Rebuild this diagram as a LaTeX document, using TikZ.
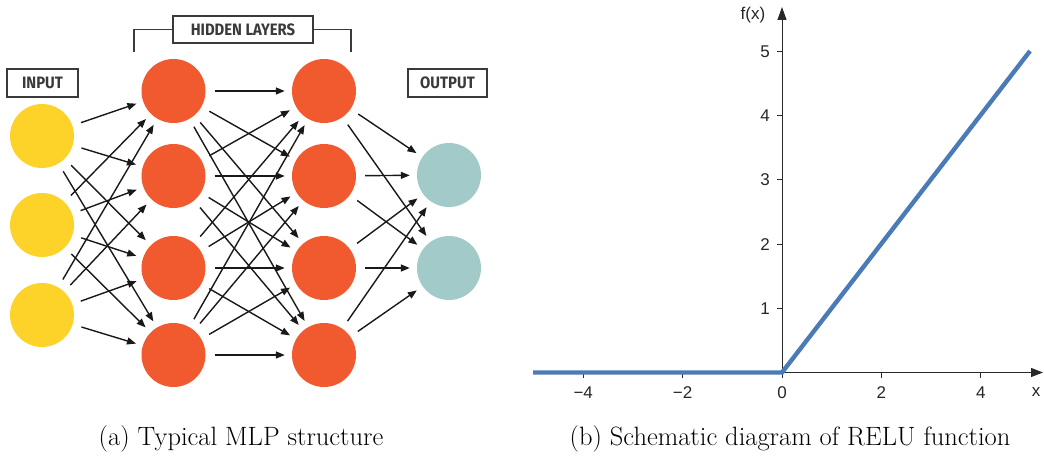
\documentclass[tikz,border=0pt]{standalone}
\usepackage{fontspec}
\usetikzlibrary{arrows.meta}
\newfontfamily\plotfont{Liberation Sans}
\newfontfamily\tagfont[FakeStretch=0.9]{Fira Sans}

\definecolor{inyellow}{RGB}{253,211,41}
\definecolor{hidorange}{RGB}{241,89,46}
\definecolor{outteal}{RGB}{161,202,201}
\definecolor{relublue}{RGB}{74,123,183}
\definecolor{tagrey}{RGB}{58,58,58}
\definecolor{axisgrey}{RGB}{40,40,40}

\tikzset{
  neuron/.style={circle,minimum size=64pt,inner sep=0pt,draw=none},
  inneuron/.style={neuron,fill=inyellow},
  hidneuron/.style={neuron,fill=hidorange},
  outneuron/.style={neuron,fill=outteal},
  conn/.style={line width=1.4pt,draw=black!90,
    -{Triangle[length=9pt,width=7pt]},shorten <=9pt,shorten >=7pt},
  tagbox/.style={draw=tagrey,line width=1.8pt,inner sep=0pt,
    text=tagrey,font=\tagfont\bfseries\fontsize{16.5}{17}\selectfont},
  bracket/.style={draw=tagrey,line width=1.8pt},
  caption/.style={anchor=base,inner sep=0pt,font=\fontsize{26.5}{31}\selectfont},
  axisline/.style={draw=axisgrey,line width=1pt},
  tick/.style={draw=axisgrey,line width=0.9pt},
  ticklabel/.style={inner sep=0pt,font=\plotfont\fontsize{17}{19}\selectfont,text=black!85},
  relu/.style={draw=relublue,line width=4.4pt}
}

\begin{document}
\begin{tikzpicture}[x=1pt,y=-1pt]
\useasboundingbox (0,0) rectangle (1044,460);

% ---------------- (a) multilayer perceptron ----------------
\node[inneuron] (a1) at (42,136) {};
\node[inneuron] (a2) at (42,225) {};
\node[inneuron] (a3) at (42,315) {};
\foreach \j/\y in {1/91,2/176,3/268,4/355} {
  \node[hidneuron] (b\j) at (173.5,\y) {};
  \node[hidneuron] (c\j) at (324,\y) {};
}
\node[outneuron] (o1) at (449,175) {};
\node[outneuron] (o2) at (449,268) {};

\foreach \i in {1,2,3}
  \foreach \j in {1,...,4}
    \draw[conn] (a\i) -- (b\j);
\foreach \i in {1,...,4}
  \foreach \j in {1,...,4}
    \draw[conn] (b\i) -- (c\j);
\foreach \i in {1,...,4}
  \foreach \k in {1,2}
    \draw[conn] (c\i) -- (o\k);

% layer tags
\node[tagbox,minimum width=71pt,minimum height=28pt] (tin) at (42.5,83) {INPUT};
\node[tagbox,minimum width=140pt,minimum height=27pt] (thid) at (243,29.5) {HIDDEN LAYERS};
\node[tagbox,minimum width=79pt,minimum height=28pt] (tout) at (447.5,83) {OUTPUT};
\coordinate (brL) at (134,52);
\coordinate (brR) at (351,52);
\draw[bracket] (brL) |- (thid.west);
\draw[bracket] (brR) |- (thid.east);

\node[caption] (capa) at (241,445) {(a) Typical MLP structure};

% ---------------- (b) ReLU plot ----------------
% origin (782,372.5); 49.7 per x unit, 64.2 per y unit
\coordinate (O) at (782,372.5);
\coordinate (xL) at (533,372.5);
\coordinate (xR) at (1043,372.5);
\coordinate (yT) at (782,7);
\coordinate (p0) at (533,372.5);
\coordinate (p1) at (782,372.5);
\coordinate (p2) at (1030,51);

\draw[axisline,-{Triangle[length=12pt,width=9pt]}] (xL) -- (xR);
\draw[axisline,-{Triangle[length=13pt,width=9pt]}] (O) -- (yT);

\foreach \v/\lab in {-4/−4,-2/−2,0/0,2/2,4/4} {
  \coordinate (xt\v) at ({782+49.7*\v},372.5);
  \draw[tick] (xt\v) -- ++(0,5);
  \node[ticklabel] (xl\v) at ({782+49.7*\v},393) {\lab};
}
\foreach \v in {1,...,5} {
  \coordinate (yt\v) at (782,{372.5-64.2*\v});
  \draw[tick] (yt\v) -- ++(-5,0);
  \node[ticklabel,anchor=east] (yl\v) at (770,{372.5-64.2*\v}) {\v};
}
\node[ticklabel] (xlab) at (1036,392) {x};
\node[ticklabel] (ylab) at (753,15) {f(x)};

\draw[relu] (p0) -- (p1) -- (p2);

\node[caption] (capb) at (790,445) {(b) Schematic diagram of RELU function};
\end{tikzpicture}
\end{document}
